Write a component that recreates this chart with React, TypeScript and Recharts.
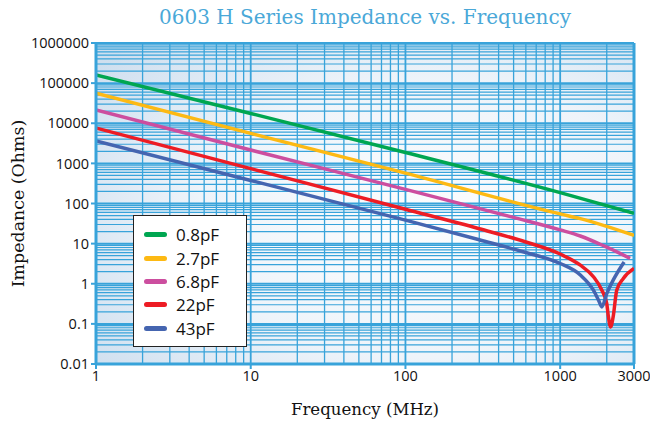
import React from 'react';
import { LineChart, Line, XAxis, YAxis, ReferenceLine, ReferenceArea, Legend } from 'recharts';

// axis ticks
const xTicks = [1, 10, 100, 1000, 3000];
const yTicks = [0.01, 0.1, 1, 10, 100, 1000, 10000, 100000, 1000000];

// series (MHz, Ohms)
const freq08 = [1, 10, 100, 1000, 3000];
const imp08 = [160000, 17500, 1870, 187, 57];

const freq27 = [1, 10, 100, 1000, 1350, 3000];
const imp27 = [56000, 5600, 570, 55, 42, 16];

const freq68 = [1, 10, 100, 500, 1000, 1350, 1950, 2830];
const imp68 = [21500, 2150, 225, 45, 22, 15.5, 8.5, 4.3];

const freq22 = [1, 10, 100, 300, 600, 1000, 1350, 1640, 1860, 2000, 2050, 2120, 2200, 2320, 2560, 3000];
const imp22 = [7600, 740, 72, 23.5, 11, 5.5, 2.9, 1.5, 0.69, 0.32, 0.15, 0.084, 0.15, 0.69, 1.36, 2.4];

const freq43 = [1, 10, 100, 300, 600, 1000, 1350, 1640, 1770, 1860, 2000, 2200, 2590];
const imp43 = [3600, 375, 38.5, 12.5, 6, 3.2, 1.65, 0.69, 0.39, 0.265, 0.57, 1.23, 3.5];

const BLUE = '#38a3da';

const toData = (f: number[], z: number[]) => f.map((v, i) => ({ f: v, z: z[i] }));

const series = [
  { name: '0.8pF', color: '#00a651', data: toData(freq08, imp08) },
  { name: '2.7pF', color: '#fdb913', data: toData(freq27, imp27) },
  { name: '6.8pF', color: '#cc4e9f', data: toData(freq68, imp68) },
  { name: '22pF', color: '#ed1c24', data: toData(freq22, imp22) },
  { name: '43pF', color: '#4565b0', data: toData(freq43, imp43) },
];

// log grid lines (2..9 inside each decade)
const mults = [2, 3, 4, 5, 6, 7, 8, 9];
const xMinor = [1, 10, 100, 1000].flatMap((d) => mults.map((m) => m * d)).filter((v) => v < 3000);
const yMinor = [0.01, 0.1, 1, 10, 100, 1000, 10000, 100000].flatMap((d) => mults.map((m) => +(m * d).toPrecision(3)));

// legend keeps the series order
const renderLegend = () => (
  <div
    style={{
      width: 114,
      height: 132,
      boxSizing: 'border-box',
      border: '1.5px solid #222',
      background: '#fff',
      padding: '7px 0 0 10px',
      fontFamily: '"Open Sans", sans-serif',
      fontSize: 17,
      color: '#111',
    }}
  >
    {series.map((s) => (
      <div key={s.name} style={{ display: 'flex', alignItems: 'center', height: 23.4 }}>
        <span style={{ display: 'inline-block', width: 23, height: 5, borderRadius: 3, background: s.color, marginRight: 9 }} />
        <span>{s.name}</span>
      </div>
    ))}
  </div>
);

export default function App() {
  return (
    <div style={{ position: 'absolute', left: 0, top: 0, width: 650, height: 425, background: '#fff' }}>
      <div
        style={{
          position: 'absolute',
          left: 0,
          width: 730,
          top: 5,
          textAlign: 'center',
          fontFamily: '"DejaVu Serif", serif',
          fontSize: 20,
          color: '#4aa8d8',
          lineHeight: '24px',
        }}
      >
        0603 H Series Impedance vs. Frequency
      </div>
      <LineChart width={650} height={425} margin={{ top: 43, right: 16, bottom: 0, left: 0 }}>
        <defs>
          <radialGradient id="plotBg" cx="62%" cy="55%" r="78%">
            <stop offset="0%" stopColor="#fcfdfe" />
            <stop offset="55%" stopColor="#eef4fa" />
            <stop offset="100%" stopColor="#cfdfef" />
          </radialGradient>
        </defs>
        <XAxis
          dataKey="f"
          type="number"
          scale="log"
          domain={[1, 3000]}
          ticks={xTicks}
          interval={0}
          allowDataOverflow
          height={61}
          axisLine={{ stroke: BLUE, strokeWidth: 3 }}
          tickLine={{ stroke: BLUE, strokeWidth: 2 }}
          tickSize={5}
          tick={{ fill: '#111', fontSize: 14.5, fontFamily: '"Open Sans", sans-serif' }}
          label={{
            content: (p: any) => (
              <text
                x={p.viewBox.x + p.viewBox.width / 2}
                y={415}
                textAnchor="middle"
                fontFamily='"DejaVu Serif", serif'
                fontSize={16.6}
                fill="#111"
              >
                Frequency (MHz)
              </text>
            ),
          }}
        />
        <YAxis
          dataKey="z"
          type="number"
          scale="log"
          domain={[0.01, 1000000]}
          ticks={yTicks}
          interval={0}
          allowDataOverflow
          width={96}
          axisLine={{ stroke: BLUE, strokeWidth: 3 }}
          tickLine={{ stroke: BLUE, strokeWidth: 2 }}
          tickSize={5}
          tickFormatter={(v: number) => String(v)}
          tick={{ fill: '#111', fontSize: 14.5, fontFamily: '"Open Sans", sans-serif' }}
          label={{
            content: (p: any) => {
              const cy = p.viewBox.y + p.viewBox.height / 2;
              return (
                <text
                  x={24}
                  y={cy}
                  transform={`rotate(-90 24 ${cy})`}
                  textAnchor="middle"
                  fontFamily='"DejaVu Serif", serif'
                  fontSize={17.4}
                  fill="#111"
                >
                  Impedance (Ohms)
                </text>
              );
            },
          }}
        />
        <ReferenceArea x1={1} x2={3000} y1={0.01} y2={1000000} fill="url(#plotBg)" fillOpacity={1} stroke="none" />
        {xMinor.map((v) => (
          <ReferenceLine key={'x' + v} x={v} stroke={BLUE} strokeWidth={1.3} />
        ))}
        {[10, 100, 1000].map((v) => (
          <ReferenceLine key={'X' + v} x={v} stroke={BLUE} strokeWidth={1.8} />
        ))}
        {yMinor.map((v) => (
          <ReferenceLine key={'y' + v} y={v} stroke={BLUE} strokeWidth={1.2} />
        ))}
        {yTicks.slice(1).map((v) => (
          <ReferenceLine key={'Y' + v} y={v} stroke={BLUE} strokeWidth={2} />
        ))}
        <ReferenceLine x={3000} stroke={BLUE} strokeWidth={3} />
        {series.map((s) => (
          <Line
            key={s.name}
            data={s.data}
            dataKey="z"
            name={s.name}
            type="monotone"
            stroke={s.color}
            strokeWidth={3.5}
            dot={false}
            activeDot={false}
            isAnimationActive={false}
          />
        ))}
        <Legend
          layout="vertical"
          align="center"
          verticalAlign="middle"
          content={renderLegend}
          wrapperStyle={{ position: 'absolute', left: 133, top: 215, width: 'auto', height: 'auto' }}
        />
      </LineChart>
    </div>
  );
}
